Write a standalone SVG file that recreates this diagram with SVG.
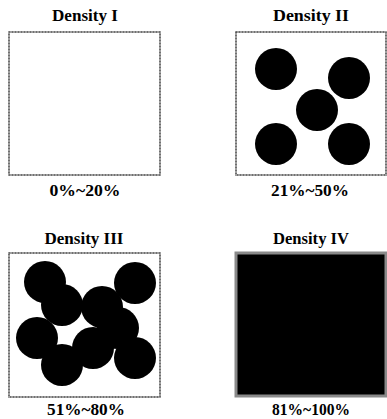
<svg xmlns="http://www.w3.org/2000/svg" width="387" height="419" viewBox="0 0 387 419">
  <style>
    .t { font-family: "Liberation Serif", "Times New Roman", serif; font-weight: bold; font-size: 17px; fill: #000; text-anchor: middle; }
    .box { fill: #fff; stroke: #a0a0a0; stroke-width: 2; }
    .dots { fill: none; stroke: #404040; stroke-width: 1; stroke-dasharray: 1 2; }
    .c { fill: #000; }
  </style>
  <rect width="387" height="419" fill="#fff"/>
  <g id="density-1">
    <text class="t" x="85" y="21" textLength="66" lengthAdjust="spacingAndGlyphs">Density I</text>
    <rect class="box" x="9" y="32" width="151" height="143"/>
    <rect class="dots" x="9" y="32" width="151" height="143"/>
    <text class="t" x="85" y="196" textLength="71" lengthAdjust="spacingAndGlyphs">0%~20%</text>
  </g>
  <g id="density-2">
    <text class="t" x="311" y="21" textLength="76" lengthAdjust="spacingAndGlyphs">Density II</text>
    <rect class="box" x="236" y="32" width="150" height="143"/>
    <rect class="dots" x="236" y="32" width="150" height="143"/>
    <circle class="c" cx="276" cy="69" r="21"/>
    <circle class="c" cx="349" cy="78" r="21"/>
    <circle class="c" cx="317" cy="110" r="21"/>
    <circle class="c" cx="276" cy="144" r="21"/>
    <circle class="c" cx="349" cy="144" r="21"/>
    <text class="t" x="310" y="196" textLength="78" lengthAdjust="spacingAndGlyphs">21%~50%</text>
  </g>
  <g id="density-3">
    <text class="t" x="84" y="244" textLength="79" lengthAdjust="spacingAndGlyphs">Density III</text>
    <rect class="box" x="9" y="253" width="151" height="144"/>
    <rect class="dots" x="9" y="253" width="151" height="144"/>
    <circle class="c" cx="45" cy="282" r="21"/>
    <circle class="c" cx="62" cy="305" r="21"/>
    <circle class="c" cx="135" cy="283" r="21"/>
    <circle class="c" cx="102" cy="307" r="21"/>
    <circle class="c" cx="118" cy="328" r="21"/>
    <circle class="c" cx="37" cy="338" r="21"/>
    <circle class="c" cx="62" cy="365" r="21"/>
    <circle class="c" cx="93" cy="348" r="21"/>
    <circle class="c" cx="135" cy="358" r="21"/>
    <text class="t" x="86" y="415" textLength="78" lengthAdjust="spacingAndGlyphs">51%~80%</text>
  </g>
  <g id="density-4">
    <text class="t" x="311" y="244" textLength="76" lengthAdjust="spacingAndGlyphs">Density IV</text>
    <rect x="236" y="253" width="150" height="143" fill="#000" stroke="#8a8a8a" stroke-width="3"/>
    <text class="t" x="311" y="415" textLength="78" lengthAdjust="spacingAndGlyphs">81%~100%</text>
  </g>
  <g id="connectors"/>
</svg>
